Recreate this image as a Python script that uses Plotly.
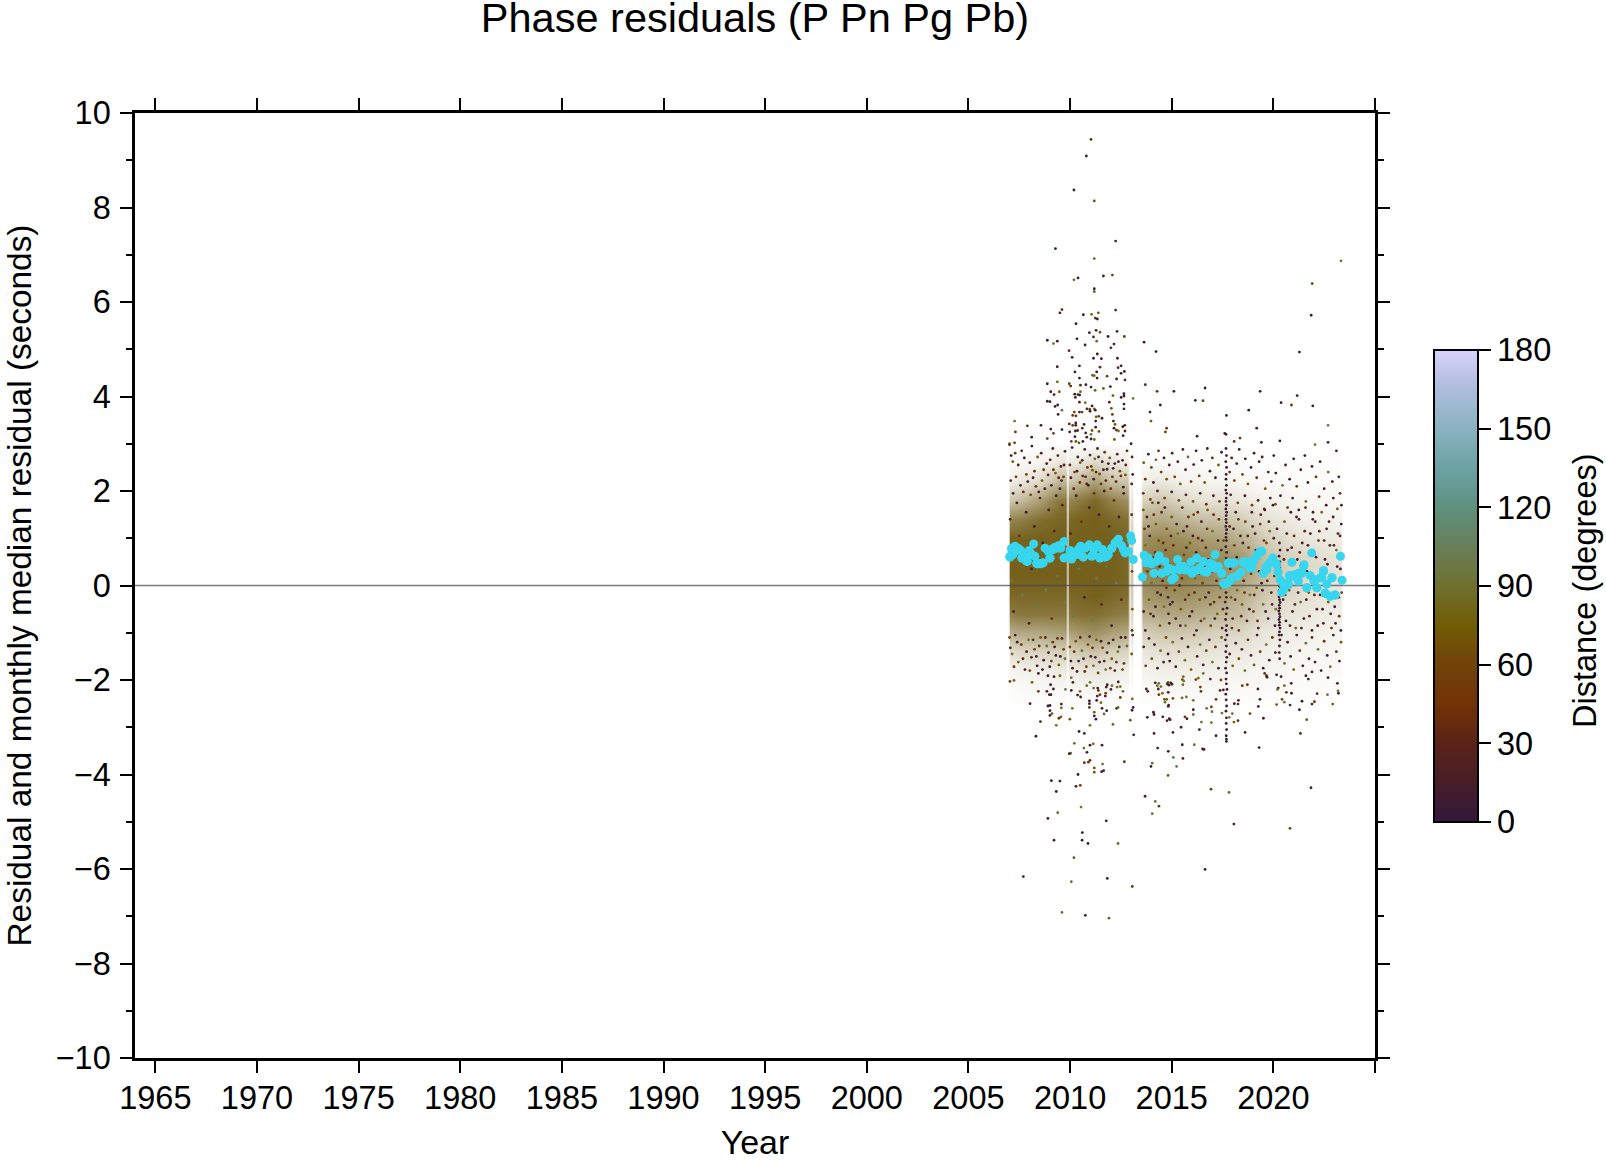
import plotly.graph_objects as go

# Values. Outlying residuals are individual readings.
# The solid core holds far too many dots to read one by one, so it is summarised as a
# hand-estimated coverage table (DENSITY_*), with a sample of hand-placed dots on top.
X_TICKS = list(range(1965, 2030, 5))
X_LABELS = [str(v) for v in X_TICKS[:-1]] + [""]
Y_TICKS = list(range(-10, 12, 2))
CBAR_TICKS = [0, 30, 60, 90, 120, 150, 180]

DIST_COLORS = [[0, "#33183a"], [0.167, "#5b2318"], [0.25, "#733205"], [0.333, "#71430a"],
               [0.417, "#715c06"], [0.5, "#70702e"], [0.583, "#687f58"], [0.667, "#5f917f"],
               [0.75, "#6ba2a3"], [0.833, "#8ab2c0"], [0.917, "#adbddc"], [1, "#d8d2fa"]]

DENSITY_YEAR = [2006.95, 2007.0, 2007.5, 2008.5, 2009.5, 2009.8, 2009.87, 2009.94, 2010.5, 2011.2, 2012,
                2012.85, 2012.92, 2013.02, 2013.12, 2013.45, 2013.55, 2014.5, 2015.5, 2016.5, 2017.5,
                2018.5, 2019.5, 2020.5, 2021.5, 2022.5, 2023.3, 2023.4]
DENSITY_RESID = [-2.6, -2.2, -1.8, -1.4, -1.0, -0.6, -0.2, 0.2, 0.6, 1.0, 1.4, 1.8, 2.2, 2.6, 3.0]
DENSITY_COVER = [
 [0]*28,
 [0,.02,.03,.04,.04,.04,0,.04,.05,.06,.05,.04,0,.02,0,0,.03,.05,.05,.04,.04,.03,.03,.02,.02,.02,.01,0],
 [0,.06,.08,.1,.12,.12,.01,.12,.14,.16,.12,.1,0,.05,0,0,.08,.1,.1,.1,.08,.08,.06,.05,.04,.04,.03,0],
 [0,.2,.25,.28,.3,.3,.03,.3,.35,.38,.3,.28,0,.12,0,0,.16,.2,.2,.18,.15,.14,.1,.08,.06,.06,.05,0],
 [0,.5,.55,.55,.6,.6,.05,.6,.65,.7,.6,.55,.02,.2,0,0,.3,.36,.35,.32,.28,.25,.16,.12,.1,.08,.07,0],
 [0,.8,.85,.85,.85,.85,.08,.85,.9,.9,.85,.8,.04,.3,0,0,.5,.55,.55,.5,.45,.4,.25,.18,.15,.12,.1,0],
 [0,.95,.95,.95,.95,.95,.1,.95,.97,1,.95,.92,.06,.4,0,0,.65,.7,.7,.65,.6,.5,.35,.25,.2,.16,.14,0],
 [0,1,1,1,1,1,.15,1,1,1,1,.95,.08,.45,0,0,.75,.8,.8,.75,.7,.6,.42,.3,.25,.2,.16,0],
 [0,1,1,1,1,1,.15,1,1,1,1,.95,.08,.45,0,0,.78,.82,.82,.75,.72,.62,.42,.3,.25,.2,.16,0],
 [0,.98,.98,1,1,1,.12,1,1,1,1,.95,.06,.4,0,0,.7,.75,.7,.62,.58,.48,.32,.22,.16,.13,.12,0],
 [0,.75,.8,.9,.97,.97,.08,.95,.98,1,.95,.9,.04,.3,0,0,.5,.55,.48,.4,.38,.3,.2,.14,.1,.08,.08,0],
 [0,.35,.42,.6,.85,.85,.05,.75,.85,.95,.8,.7,.02,.18,0,0,.28,.35,.25,.18,.18,.14,.09,.07,.05,.04,.04,0],
 [0,.1,.14,.22,.45,.45,.02,.35,.45,.6,.4,.35,0,.08,0,0,.1,.14,.08,.07,.06,.05,.03,.03,.02,.02,.02,0],
 [0,.02,.03,.07,.16,.16,0,.12,.16,.25,.16,.12,0,.03,0,0,.03,.04,.03,.02,.02,.02,.01,.01,.01,.01,.01,0],
 [0]*28,
]

# (year, residual, distance)
HIGH = [(2011.03,9.44,40),(2010.80,9.09,10),(2010.19,8.37,10),(2011.19,8.14,70),(2009.28,7.13,10),(2012.24,7.29,30),
(2011.19,6.92,85),(2023.33,6.87,100),(2021.91,6.39,50),(2021.86,5.72,15),(2010.19,6.47,85),(2010.39,6.51,10),(2011.64,6.55,10),
(2012.08,6.57,60),(2011.19,6.28,10),(2011.19,6.22,75),(2009.60,5.84,40),(2009.50,5.77,10),(2010.65,5.73,10),(2011.06,5.74,85),
(2011.39,5.77,75),(2012.24,5.83,30),(2011.24,5.66,30),(2011.34,5.64,10),(2010.29,5.54,10),(2011.28,5.40,10),(2010.95,5.35,15),
(2011.47,5.36,75),(2012.31,5.38,30),(2011.87,5.27,10),(2012.67,5.27,50),(2011.15,5.26,30),(2008.88,5.19,10),(2009.37,5.17,10),
(2009.18,5.12,90),(2010.34,5.22,10),(2011.31,5.17,85),(2012.16,5.11,15),(2010.74,5.09,15),(2012.01,5.03,30),(2013.64,5.15,10),
(2014.23,4.95,10),(2021.28,4.94,10),(2009.95,4.97,40),(2010.10,4.83,10),(2011.34,4.90,10),(2011.15,4.81,10),(2011.54,4.80,15),
(2012.33,4.81,10),(2009.37,4.63,10),(2010.46,4.65,10),(2011.47,4.62,40),(2012.51,4.65,10),(2012.36,4.61,30),(2010.24,4.52,10),
(2012.67,4.53,10),(2012.51,4.49,10),(2011.10,4.45,85),(2011.19,4.44,85),(2011.31,4.52,10),(2011.82,4.43,60),(2011.33,4.39,10),
(2010.46,4.39,15),(2012.29,4.37,10),(2012.70,4.35,40),(2009.37,4.31,85),(2008.88,4.27,10),(2009.96,4.27,50),(2010.03,4.22,40),
(2010.51,4.24,30),(2010.78,4.25,10),(2011.03,4.20,10),(2011.98,4.21,10),(2011.64,4.17,75),(2011.23,4.13,70),(2010.51,4.10,85),
(2009.05,4.10,10),(2009.47,4.10,75),(2009.21,4.04,15),(2010.23,4.05,10),(2010.39,4.04,15),(2010.47,4.03,15),(2010.26,3.98,15),
(2012.11,4.02,75),(2012.65,4.06,10),(2012.65,4.01,10),(2012.51,3.98,15),(2013.10,3.96,100),(2013.70,4.25,30),(2014.28,4.11,40),
(2015.11,4.11,10),(2016.64,4.18,10),(2016.16,3.92,10),(2016.54,3.91,60),(2019.35,4.11,10),(2021.17,4.02,10),(2020.38,3.87,10),
(2020.89,3.82,40),(2021.94,3.80,15),(2008.88,3.90,10),(2009.01,3.89,10),(2009.39,3.82,10),(2009.26,3.79,15),(2010.46,3.88,30),
(2010.75,3.87,95),(2011.93,3.88,30),(2012.65,3.84,10),(2014.44,3.82,10),(2011.08,3.80,15),(2010.83,3.74,30),(2010.97,3.73,70),
(2011.19,3.74,85),(2011.24,3.71,15),(2012.03,3.75,70),(2012.65,3.74,10),(2009.60,3.71,95),(2010.98,3.69,10),(2010.46,3.67,15),
(2010.59,3.67,60),(2010.21,3.67,60),(2009.41,3.62,15),(2010.13,3.60,50),(2010.29,3.59,40),(2012.08,3.62,50),(2011.28,3.57,75),
(2011.41,3.58,60),(2011.57,3.54,10),(2013.93,3.67,15),(2017.69,3.60,10),(2018.79,3.71,10),(2007.27,3.48,90),(2012.13,3.48,15),
(2013.98,3.48,75),(2011.26,3.48,10),(2007.90,3.38,40),(2008.57,3.39,10),(2009.96,3.42,40),(2010.28,3.44,15),(2010.28,3.39,15),
(2010.13,3.39,50),(2010.69,3.41,10),(2012.21,3.41,70),(2012.69,3.39,30),(2012.59,3.36,15),(2014.75,3.33,50),(2022.69,3.39,100),
(2019.18,3.33,15),(2010.60,3.33,40),(2011.26,3.35,15),(2009.05,3.31,15),(2009.60,3.30,10),(2012.16,3.33,15),(2010.26,3.27,15),
(2010.37,3.28,30),(2011.08,3.28,70),(2012.28,3.29,30),(2012.70,3.27,30),(2007.31,3.25,50),(2009.98,3.25,15),(2009.18,3.22,50),
(2010.77,3.23,15),(2011.42,3.26,75),(2012.38,3.27,90),(2014.69,3.25,50),(2011.03,3.20,95),(2017.61,3.22,15),(2017.67,3.20,10),
(2016.25,3.16,10),(2012.61,3.17,15),(2008.11,3.14,15),(2010.24,3.15,15),(2010.82,3.14,15),(2018.36,3.12,40),(2008.88,3.11,50),
(2011.03,3.10,10),(2011.19,3.09,85),(2012.18,3.09,75),(2018.07,3.05,40),(2020.32,3.06,15),(2019.41,3.03,15),(2010.06,3.05,60),
(2010.29,3.05,70),(2010.44,3.02,70),(2010.63,3.05,10),(2007.02,3.00,90),(2007.27,3.02,50),(2022.69,3.03,15),(2022.05,2.98,100)]

LOW = [(2007.04,-2.03,55),(2007.24,-2.01,80),(2008.13,-2.05,75),(2008.44,-1.86,10),(2008.44,-2.24,50),(2008.03,-2.50,10),
(2008.54,-2.88,30),(2008.32,-3.19,10),(2008.91,-1.91,10),(2009.21,-1.93,15),(2009.50,-1.91,85),(2009.04,-2.10,10),(2009.18,-2.19,10),
(2008.86,-2.24,10),(2008.98,-2.31,10),(2009.06,-2.31,15),(2009.77,-2.20,100),(2010.06,-1.95,95),(2010.14,-2.05,15),(2010.06,-2.22,10),
(2010.37,-2.32,15),(2010.49,-2.24,90),(2010.52,-2.36,15),(2010.82,-2.12,90),(2010.98,-2.05,95),(2011.16,-2.17,90),(2011.36,-2.17,15),
(2011.39,-2.22,40),(2011.83,-2.10,15),(2011.78,-2.15,15),(2012.06,-2.12,90),(2012.01,-2.20,10),(2012.31,-2.15,85),(2012.47,-2.14,85),
(2012.37,-2.04,15),(2012.60,-2.24,85),(2011.75,-2.28,60),(2011.73,-2.34,15),(2011.47,-2.31,50),(2011.34,-2.34,15),(2011.31,-2.43,10),
(2010.95,-2.44,10),(2010.95,-2.50,10),(2011.52,-2.48,80),(2012.47,-2.37,50),(2013.06,-2.40,85),(2009.01,-2.54,10),(2008.91,-2.55,10),
(2009.57,-2.51,15),(2009.57,-2.59,85),(2010.11,-2.60,90),(2010.95,-2.58,40),(2011.57,-2.60,10),(2011.80,-2.65,15),(2012.29,-2.60,15),
(2012.36,-2.58,85),(2013.10,-2.58,10),(2013.05,-2.64,15),(2009.01,-2.65,10),(2009.11,-2.71,75),(2009.01,-2.75,10),(2009.55,-2.78,75),
(2009.45,-2.81,40),(2009.99,-2.83,75),(2011.19,-2.68,75),(2011.19,-2.76,15),(2011.67,-2.72,90),(2011.27,-2.83,15),(2012.96,-2.85,75),
(2009.32,-2.96,90),(2010.98,-2.96,85),(2012.11,-2.94,85),(2010.44,-3.09,10),(2010.70,-3.13,15),(2013.13,-3.16,15),(2010.21,-3.34,90),
(2011.14,-3.35,85),(2010.98,-3.38,10),(2011.57,-3.38,15),(2010.68,-3.44,90),(2010.83,-3.53,15),(2010.03,-3.55,90),(2009.96,-3.56,15),
(2010.98,-3.70,40),(2010.90,-3.74,50),(2010.70,-3.75,40),(2011.60,-3.78,95),(2012.67,-3.73,50),(2011.19,-3.86,70),(2011.19,-3.95,75),
(2011.55,-3.94,15),(2011.65,-3.92,15),(2010.39,-4.00,10),(2009.08,-4.13,10),(2009.50,-4.14,10),(2010.29,-4.25,10),(2010.50,-4.23,50),
(2009.32,-4.36,10),(2010.54,-4.69,95),(2009.39,-4.81,90),(2008.91,-4.93,10),(2011.78,-4.98,10),(2010.60,-5.23,10),(2009.21,-5.39,15),
(2010.59,-5.39,10),(2010.88,-5.46,15),(2012.36,-5.46,85),(2010.19,-5.76,70),(2007.70,-6.16,30),(2011.83,-6.20,15),(2010.06,-6.27,95),
(2013.06,-6.37,50),(2009.60,-6.92,90),(2010.75,-6.98,10),(2011.91,-7.04,80),(2016.64,-6.01,10),(2020.82,-5.14,60),(2018.06,-5.05,15),
(2021.85,-4.28,15),(2017.82,-4.38,85),(2016.93,-4.31,60),(2013.69,-4.46,15),(2014.19,-4.57,95),(2014.37,-4.67,50),(2014.04,-4.83,90),
(2014.82,-4.02,70),(2013.98,-3.83,15),(2014.04,-3.76,90),(2015.08,-3.64,100),(2015.24,-3.83,100),(2015.55,-3.66,15),(2014.83,-3.51,15),
(2014.31,-3.44,15),(2016.11,-3.37,95),(2015.52,-3.37,15),(2016.52,-3.46,15),(2016.59,-3.47,15),(2019.30,-3.43,15),(2014.13,-3.13,15),
(2015.06,-3.11,15),(2015.46,-3.00,15),(2016.36,-3.05,15),(2017.18,-3.18,15),(2018.61,-3.11,15),(2021.33,-3.13,30),(2013.80,-2.79,15),
(2014.10,-2.68,15),(2014.13,-2.73,15),(2014.56,-2.78,15),(2014.77,-2.86,15),(2014.88,-2.82,15),(2014.92,-2.84,15),(2015.65,-2.78,50),
(2015.75,-2.82,15),(2016.06,-2.63,15),(2016.06,-2.73,90),(2016.46,-2.89,95),(2016.95,-2.90,95),(2016.72,-2.60,95),(2016.95,-2.57,50),
(2016.98,-2.67,90),(2017.47,-2.70,90),(2017.98,-2.71,90),(2017.83,-2.79,100),(2018.06,-2.89,75),(2018.26,-2.86,40),(2018.85,-2.71,60),
(2019.51,-2.81,15),(2021.64,-2.84,75),(2021.28,-2.63,15),(2020.82,-2.53,30),(2020.16,-2.52,75),(2019.26,-2.56,30),(2020.54,-2.47,95),
(2020.43,-2.41,60),(2021.41,-2.45,15),(2021.90,-2.51,15),(2022.02,-2.46,40),(2022.92,-2.51,75),(2022.66,-2.31,95),(2022.15,-2.29,40),
(2023.20,-2.28,15),(2023.18,-2.23,95),(2023.15,-2.07,15),(2022.69,-1.95,15),(2021.90,-1.83,15),(2021.60,-1.91,15),(2021.72,-1.98,15),
(2020.88,-2.07,15),(2020.54,-2.12,90),(2020.24,-2.17,15),(2020.20,-2.20,90),(2020.64,-2.26,40),(2020.89,-2.28,15),(2019.24,-2.19,15),
(2019.34,-2.41,15),(2018.72,-2.10,50),(2018.47,-2.12,50),(2018.28,-2.43,15),(2018.08,-2.50,15),(2018.26,-2.51,40),(2017.18,-2.41,40),
(2016.41,-2.15,50),(2016.44,-2.24,40),(2016.06,-2.43,90),(2015.72,-2.36,95),(2015.51,-2.38,90),(2015.06,-2.39,70),(2014.75,-2.41,70),
(2014.64,-2.41,70),(2014.67,-2.47,90),(2014.85,-2.53,15),(2014.83,-2.56,15),(2014.54,-2.28,90),(2014.37,-2.31,50),(2014.83,-2.26,15),
(2013.75,-2.19,15),(2013.82,-2.24,15),(2014.34,-2.19,15),(2014.19,-2.06,15),(2014.37,-2.07,90),(2014.29,-2.12,90),(2014.47,-2.14,90),
(2014.82,-2.05,80),(2014.78,-2.08,15),(2014.86,-2.11,15),(2014.95,-2.06,15),(2015.01,-2.09,15),(2015.55,-2.10,90),(2015.52,-1.99,70),
(2015.59,-2.02,90),(2015.57,-1.93,85),(2016.19,-1.99,50),(2016.31,-1.96,85),(2016.55,-1.86,95),(2016.90,-1.98,15),(2017.42,-2.00,60),
(2017.38,-2.22,15),(2017.54,-2.21,15),(2019.57,-1.86,40),(2019.66,-1.91,15),(2019.69,-1.94,15),(2020.38,-1.93,15),(2020.16,-1.89,15)]

# Fringe above the core, about 2 to 3 s
UPPER = [(2007.02,2.98,40),(2007.10,2.75,10),(2007.18,2.62,75),(2007.30,2.80,50),(2007.45,2.55,15),(2007.62,2.85,30),(2007.75,2.70,10),
(2007.85,2.35,60),(2008.02,2.60,15),(2008.12,2.95,10),(2008.25,2.42,40),(2008.40,2.72,75),(2008.58,2.80,15),(2008.70,2.45,50),
(2008.85,2.58,10),(2009.02,2.66,40),(2009.15,2.90,15),(2009.28,2.38,75),(2009.40,2.75,30),(2009.55,2.52,15),(2009.68,2.30,60),
(2009.75,2.84,10),(2009.99,2.55,40),(2010.10,2.92,15),(2010.22,2.40,60),(2010.38,2.72,10),(2010.50,2.60,75),(2010.62,2.32,40),
(2010.72,2.88,15),(2010.85,2.50,50),(2010.98,2.76,10),(2011.10,2.44,75),(2011.22,2.68,85),(2011.35,2.90,15),(2011.45,2.36,60),
(2011.58,2.62,10),(2011.70,2.82,50),(2011.82,2.46,15),(2011.95,2.70,75),(2012.08,2.30,40),(2012.20,2.58,10),(2012.32,2.78,30),
(2012.45,2.42,60),(2012.58,2.65,15),(2012.72,2.34,75),(2012.80,2.85,40),(2013.00,3.00,10),(2013.05,2.72,30),(2013.08,2.35,15),
(2013.62,2.60,75),(2013.70,2.25,40),(2013.85,2.78,15),(2014.00,2.50,60),(2014.10,2.18,10),(2014.22,2.66,90),(2014.35,2.85,40),
(2014.48,2.40,60),(2014.62,2.70,15),(2014.75,2.25,75),(2014.88,2.55,10),(2015.02,2.80,15),(2015.15,2.30,50),(2015.30,2.62,15),
(2015.42,2.15,75),(2015.55,2.88,10),(2015.68,2.45,15),(2015.80,2.72,90),(2015.95,2.20,40),(2016.08,2.56,10),(2016.20,2.85,15),
(2016.35,2.32,60),(2016.48,2.65,10),(2016.62,2.18,75),(2016.75,2.90,15),(2016.88,2.42,10),(2017.00,2.70,40),(2017.15,2.28,15),
(2017.30,2.55,75),(2017.45,2.82,10),(2017.85,2.40,40),(2017.95,2.70,15),(2018.08,2.22,50),(2018.20,2.58,10),(2018.32,2.88,15),
(2018.48,2.35,60),(2018.62,2.68,15),(2018.75,2.15,75),(2018.90,2.50,10),(2019.05,2.80,15),(2019.18,2.28,40),(2019.30,2.62,10),
(2019.45,2.72,15),(2019.60,2.05,75),(2019.75,2.40,15),(2019.90,2.20,15),(2020.02,2.75,10),(2020.12,2.38,15),(2020.45,2.12,90),
(2020.60,2.55,15),(2020.80,2.25,10),(2021.00,2.68,10),(2021.15,2.10,40),(2021.35,2.45,15),(2021.55,2.75,10),(2021.70,2.18,15),
(2021.90,2.52,10),(2022.10,2.30,40),(2022.30,2.62,15),(2022.50,2.05,15),(2022.70,2.40,90),(2022.90,2.20,10),(2023.10,2.85,15),
(2023.22,2.30,15),(2023.28,1.95,40),(2023.35,1.70,15),(2023.15,1.62,75),(2022.95,1.85,15),(2022.60,1.70,10),(2022.25,1.88,40),
(2021.95,1.55,15),(2021.60,1.78,90),(2021.25,1.60,15),(2020.95,1.85,10),(2020.70,1.65,40),(2020.35,1.90,10),(2020.10,1.72,75),
(2019.85,1.85,15),(2019.55,1.62,40),(2019.25,1.80,10),(2018.95,1.70,60),(2018.60,1.90,15),(2018.25,1.75,50),(2017.90,1.92,10),
(2017.35,1.78,60),(2017.05,1.90,15),(2016.70,1.72,40),(2016.40,1.95,10),(2016.05,1.78,75),(2015.70,1.92,15),(2015.35,1.80,60),
(2015.00,1.98,10),(2014.65,1.85,50),(2014.30,2.00,15),(2013.95,1.82,60),(2013.60,1.95,40)]

# Fringe below the core, about -1 to -1.9 s
LOWER = [(2007.02,-1.10,60),(2007.15,-1.45,90),(2007.30,-1.05,15),(2007.45,-1.62,75),(2007.60,-1.25,40),(2007.78,-1.78,15),(2007.95,-1.15,90),
(2008.10,-1.52,30),(2008.25,-1.35,60),(2008.38,-1.70,15),(2008.55,-1.10,75),(2008.70,-1.58,10),(2008.85,-1.28,90),(2009.00,-1.72,15),
(2009.15,-1.20,50),(2009.30,-1.48,10),(2009.45,-1.68,75),(2009.60,-1.12,30),(2009.75,-1.55,90),(2009.99,-1.30,60),(2010.12,-1.75,15),
(2010.28,-1.18,75),(2010.42,-1.60,10),(2010.58,-1.38,90),(2010.72,-1.82,40),(2010.88,-1.25,60),(2011.02,-1.50,15),(2011.15,-1.70,90),
(2011.30,-1.15,75),(2011.45,-1.62,10),(2011.60,-1.32,60),(2011.75,-1.78,95),(2011.90,-1.22,15),(2012.05,-1.55,75),(2012.20,-1.80,30),
(2012.35,-1.40,90),(2012.50,-1.10,15),(2012.65,-1.65,50),(2012.80,-1.28,85),(2013.03,-1.45,75),(2013.08,-1.05,15),(2013.62,-1.30,15),
(2013.72,-1.70,60),(2013.88,-1.12,10),(2014.02,-1.55,75),(2014.15,-1.25,15),(2014.30,-1.75,10),(2014.45,-1.38,90),(2014.60,-1.62,15),
(2014.72,-1.10,60),(2014.82,-1.45,10),(2014.90,-1.60,10),(2015.05,-1.20,90),(2015.20,-1.72,15),(2015.35,-1.40,60),(2015.50,-1.12,15),
(2015.65,-1.58,90),(2015.80,-1.30,10),(2015.95,-1.78,75),(2016.10,-1.05,40),(2016.25,-1.50,15),(2016.40,-1.25,90),(2016.55,-1.68,10),
(2016.70,-1.38,60),(2016.85,-1.15,15),(2017.00,-1.62,90),(2017.15,-1.30,40),(2017.30,-1.75,15),(2017.45,-1.10,75),(2017.85,-1.45,15),
(2018.00,-1.70,75),(2018.15,-1.22,10),(2018.30,-1.55,60),(2018.45,-1.35,15),(2018.60,-1.80,90),(2018.75,-1.15,40),(2018.90,-1.48,10),
(2019.05,-1.68,75),(2019.20,-1.05,15),(2019.35,-1.40,60),(2019.50,-1.75,10),(2019.65,-1.25,90),(2019.80,-1.58,15),(2019.95,-1.10,40),
(2020.10,-1.42,15),(2020.55,-1.65,90),(2020.70,-1.20,15),(2020.85,-1.50,10),(2021.00,-1.78,75),(2021.15,-1.05,15),(2021.30,-1.38,40),
(2021.45,-1.70,10),(2021.60,-1.22,90),(2021.75,-1.55,15),(2021.90,-1.10,40),(2022.05,-1.62,15),(2022.20,-1.35,90),(2022.35,-1.80,10),
(2022.50,-1.18,40),(2022.65,-1.48,15),(2022.80,-1.72,95),(2022.95,-1.05,15),(2023.10,-1.40,40),(2023.25,-1.60,15),(2023.33,-1.20,75)]

# Speckle inside and around the central band, thinning out to the right
MIDDLE = [(2013.60,1.60,75),(2013.66,1.20,40),(2013.70,0.85,90),(2013.78,1.45,15),(2013.80,0.30,60),(2013.88,-0.30,75),(2013.92,1.05,10),(2014.00,0.05,90),
(2014.05,1.75,60),(2014.10,-0.65,15),(2014.18,0.70,40),(2014.22,1.30,75),(2014.30,-0.15,10),(2014.36,0.95,60),(2014.42,-0.85,75),(2014.50,1.55,40),
(2014.55,0.10,15),(2014.62,-0.45,90),(2014.70,0.75,30),(2014.76,1.20,60),(2014.82,-0.25,10),(2014.84,-0.60,10),(2014.88,-0.80,10),(2014.92,-0.40,10),
(2015.00,1.45,75),(2015.08,0.85,40),(2015.15,-0.10,60),(2015.20,-0.70,15),(2015.30,1.10,90),(2015.38,0.00,10),(2015.45,-0.50,75),(2015.52,1.65,30),
(2015.60,0.65,60),(2015.68,-0.85,90),(2015.75,1.25,15),(2015.84,-0.20,40),(2015.90,0.90,75),(2016.00,-0.55,15),(2016.08,1.50,60),(2016.15,0.15,90),
(2016.22,-0.95,10),(2016.30,1.00,40),(2016.38,-0.30,75),(2016.46,1.35,15),(2016.52,0.05,60),(2016.60,-0.70,90),(2016.68,0.80,30),(2016.76,1.60,75),
(2016.82,-0.15,15),(2016.92,-0.85,60),(2017.00,1.15,90),(2017.08,-0.35,40),(2017.15,0.70,15),(2017.24,-0.60,75),(2017.32,1.40,40),(2017.40,-0.05,90),
(2017.48,-0.90,15),(2017.55,0.95,60),(2017.85,1.25,30),(2017.92,-0.25,75),(2018.00,-0.70,15),(2018.08,0.85,60),(2018.15,1.55,10),(2018.22,-0.10,90),
(2018.30,-0.95,40),(2018.38,1.05,15),(2018.46,-0.40,75),(2018.54,0.10,10),(2018.62,1.35,60),(2018.70,-0.75,15),(2018.78,0.80,40),(2018.85,-0.20,90),
(2018.94,1.55,15),(2019.02,-0.55,60),(2019.10,1.10,10),(2019.18,-0.05,75),(2019.26,-0.90,15),(2019.35,1.30,40),(2019.42,0.05,15),(2019.50,-0.40,90),
(2019.58,1.60,10),(2019.66,0.90,60),(2019.74,-0.70,15),(2019.82,1.15,90),(2019.90,-0.15,15),(2019.98,1.70,10),(2020.05,0.20,40),(2020.12,-0.50,90),
(2020.18,1.20,15),(2020.48,-0.30,15),(2020.55,1.35,75),(2020.62,-0.75,10),(2020.70,0.75,15),(2020.78,-0.10,90),(2020.86,1.55,10),(2020.94,-0.55,15),
(2021.02,1.05,40),(2021.10,-0.90,75),(2021.18,0.55,15),(2021.26,1.40,15),(2021.34,-0.35,90),(2021.42,0.90,10),(2021.50,-0.70,15),(2021.58,1.65,40),
(2021.66,0.30,15),(2021.74,-0.15,75),(2021.82,1.10,10),(2021.90,-0.95,15),(2021.98,0.65,90),(2022.06,1.35,15),(2022.14,-0.50,10),(2022.22,0.95,40),
(2022.30,-0.20,15),(2022.38,1.55,90),(2022.46,-0.80,15),(2022.54,0.55,10),(2022.62,1.20,15),(2022.70,-0.35,75),(2022.78,0.85,15),(2022.86,-0.90,40),
(2022.94,1.45,10),(2023.02,-0.45,15),(2023.10,0.75,90),(2023.18,1.10,15),(2023.24,-0.65,40),(2023.30,0.35,15),(2023.34,1.30,10),(2023.36,-0.15,60),
(2007.05,1.40,30),(2007.12,0.10,100),(2007.22,-0.55,15),(2007.38,1.75,15),(2007.50,1.05,40),(2007.66,-0.20,105),(2007.84,1.55,10),(2007.98,-0.80,15),
(2008.10,0.35,30),(2008.24,1.25,10),(2008.36,-0.45,100),(2008.52,1.85,30),(2008.66,0.90,10),(2008.80,-0.10,105),(2008.95,1.60,10),(2009.10,-0.70,40),
(2009.22,1.15,30),(2009.36,0.20,100),(2009.50,2.05,10),(2009.62,1.70,30),(2009.74,-0.35,105),(2010.02,1.10,30),(2010.16,-0.65,100),(2010.30,1.90,10),
(2010.44,0.35,105),(2010.56,1.35,40),(2010.70,-0.25,10),(2010.82,2.15,30),(2010.94,1.65,10),(2011.06,-0.75,100),(2011.18,1.95,40),(2011.30,0.15,105),
(2011.42,1.50,10),(2011.54,-0.40,30),(2011.68,2.00,10),(2011.80,0.40,100),(2011.92,1.25,30),(2012.04,-0.85,10),(2012.16,1.80,40),(2012.28,0.05,105),
(2012.40,1.45,10),(2012.52,-0.30,30),(2012.64,1.95,10),(2012.76,0.60,100),(2013.03,1.50,30),(2013.05,0.30,60),(2013.06,-0.50,75),(2013.03,2.15,15),
(2013.05,-0.95,30)]

# Further speckle from the crop of the band, mostly the darker and browner dots
EXTRA = [(2007.08,2.22,30),(2007.20,1.95,10),(2007.34,2.30,60),(2007.56,2.12,15),(2007.70,1.98,40),(2007.92,2.20,10),(2008.06,1.92,60),(2008.18,2.28,15),
(2008.32,2.10,40),(2008.46,1.98,10),(2008.62,2.22,75),(2008.76,2.05,15),(2008.92,2.34,30),(2009.08,2.12,10),(2009.18,2.45,40),(2009.32,1.90,15),
(2009.44,2.28,30),(2009.58,2.22,10),(2009.70,2.55,30),(2010.04,2.28,15),(2010.18,2.05,30),(2010.34,2.42,10),(2010.48,2.18,40),(2010.60,2.65,10),
(2010.76,2.30,30),(2010.90,2.12,15),(2011.04,2.52,40),(2011.16,2.25,10),(2011.28,2.40,30),(2011.40,2.72,15),(2011.52,2.15,40),(2011.64,2.45,10),
(2011.76,2.22,30),(2011.88,2.58,15),(2012.00,2.05,40),(2012.12,2.48,10),(2012.26,2.20,30),(2012.38,2.62,15),(2012.50,2.32,40),(2012.62,2.08,10),
(2012.74,2.55,30),(2007.06,-1.32,15),(2007.24,-1.72,40),(2007.40,-1.20,10),(2007.68,-1.55,30),(2007.86,-1.40,15),(2008.02,-1.80,60),(2008.18,-1.15,40),
(2008.34,-1.50,10),(2008.48,-1.28,40),(2008.64,-1.78,15),(2008.78,-1.10,30),(2008.94,-1.42,10),(2009.08,-1.60,60),(2009.24,-1.30,15),(2009.38,-1.12,40),
(2009.52,-1.50,10),(2009.68,-1.35,60),(2010.04,-1.60,10),(2010.20,-1.40,40),(2010.34,-1.82,15),(2010.50,-1.10,30),(2010.66,-1.55,10),(2010.80,-1.72,60),
(2010.96,-1.08,15),(2011.10,-1.32,40),(2011.24,-1.52,10),(2011.38,-1.85,60),(2011.52,-1.18,15),(2011.68,-1.60,30),(2011.82,-1.42,10),(2011.98,-1.75,60),
(2012.12,-1.15,15),(2012.28,-1.62,40),(2012.42,-1.30,10),(2012.58,-1.78,60),(2012.72,-1.10,15),(2013.62,-0.55,15),(2013.70,-0.95,10),(2013.78,0.55,40),
(2013.86,1.25,10),(2013.96,-0.60,30),(2014.04,0.60,15),(2014.12,1.50,40),(2014.20,-0.45,10),(2014.26,0.20,40),(2014.34,1.75,15),(2014.40,0.40,30),
(2014.46,-0.20,15),(2014.58,0.90,40),(2014.66,1.65,10),(2014.74,-0.05,40),(2014.86,0.45,15),(2014.96,1.05,30),(2015.04,-0.35,10),(2015.12,0.25,40),
(2015.24,1.30,15),(2015.34,0.60,30),(2015.42,-0.85,10),(2015.50,0.15,40),(2015.58,1.15,15),(2015.66,-0.30,30),(2015.72,0.80,10),(2015.82,1.45,40),
(2015.88,-0.65,15),(2015.96,0.35,40),(2016.04,1.05,10),(2016.12,-0.15,30),(2016.20,0.70,15),(2016.28,1.55,40),(2016.36,0.25,10),(2016.44,-0.75,40),
(2016.50,0.95,15),(2016.58,0.40,30),(2016.66,-0.25,10),(2016.74,1.20,40),(2016.80,0.55,15),(2016.90,-0.40,30),(2016.98,0.30,10),(2017.06,1.50,40),
(2017.12,-0.70,15),(2017.20,0.10,30),(2017.28,0.95,10),(2017.36,-0.25,40),(2017.44,0.75,15),(2017.52,-0.50,30),(2017.88,0.35,15),(2017.96,-0.90,40),
(2018.04,1.20,10),(2018.12,-0.30,30),(2018.20,0.60,15),(2018.28,1.40,40),(2018.34,0.20,10),(2018.42,-0.65,30),(2018.50,0.90,15),(2018.58,-0.15,40),
(2018.66,0.40,10),(2018.74,1.05,30),(2018.82,-0.50,15),(2018.90,0.25,40),(2018.98,1.25,10),(2019.06,-0.20,30),(2019.14,0.75,15),(2019.22,-0.75,40),
(2019.30,0.30,10),(2019.38,1.50,30),(2019.46,-0.10,15),(2019.54,0.95,40),(2019.62,-0.55,10),(2019.70,0.10,30),(2019.78,1.35,15),(2019.86,0.60,10),
(2019.94,-0.40,30),(2020.02,1.00,15),(2020.08,-0.85,10),(2020.16,0.35,30),(2020.40,-1.05,15),(2020.52,0.55,10),(2020.58,-0.20,30),(2020.66,1.10,15),
(2020.74,0.10,10),(2020.82,-0.85,30),(2020.90,0.80,15),(2020.98,0.20,10),(2021.06,-0.40,30),(2021.14,1.45,15),(2021.22,-0.15,10),(2021.30,0.70,30),
(2021.38,-0.90,15),(2021.46,0.40,10),(2021.54,1.15,30),(2021.62,-0.30,15),(2021.70,0.85,10),(2021.78,-0.65,30),(2021.86,0.15,15),(2021.94,1.40,10),
(2022.02,-0.20,30),(2022.10,0.60,15),(2022.18,-0.85,10),(2022.26,1.15,30),(2022.34,0.25,15),(2022.42,-0.50,10),(2022.50,0.95,30),(2022.58,-0.10,15),
(2022.66,0.45,10),(2022.74,1.35,30),(2022.82,-0.60,15),(2022.90,0.20,10),(2022.98,0.85,30),(2023.06,-0.80,15),(2023.14,0.40,10),(2023.22,-0.25,30),
(2023.28,1.05,15),(2023.32,-0.95,10)]

STREAK_A_RESID = [2.9,2.75,2.62,2.5,2.35,2.25,2.12,2.02,1.95,1.85,1.78,1.7,1.62,1.55,1.48,1.4,1.33,1.25,1.18,1.1,1.02,0.95,0.82,0.7,0.58,
                  -0.15,-0.25,-0.35,-0.48,-0.6,-0.72,-0.85,-0.95,-1.05,-1.15,-1.28,-1.4,-1.52,-1.62,-1.75,-1.85,-1.98,-2.08,-2.2,-2.3,-2.42,-2.55,-2.66,-2.8,-2.92,-3.05,-3.18,-3.25,-3.3]
STREAK_A_YEAR = [2017.67,2017.69,2017.66,2017.70,2017.68,2017.67,2017.69,2017.66,2017.70,2017.68,2017.67,2017.69,2017.66,2017.70,2017.68,2017.67,2017.69,2017.66,2017.70,2017.68,2017.67,2017.69,2017.66,2017.70,2017.68,
                 2017.67,2017.69,2017.63,2017.72,2017.68,2017.65,2017.70,2017.67,2017.72,2017.64,2017.69,2017.66,2017.71,2017.68,2017.65,2017.70,2017.67,2017.69,2017.72,2017.66,2017.68,2017.70,2017.67,2017.69,2017.68,2017.70,2017.68,2017.69,2017.69]
STREAK_B_RESID = [0.9,0.75,0.62,0.5,0.38,0.25,-0.02,-0.1,-0.18,-0.24,-0.3,-0.36,-0.42,-0.48,-0.54,-0.6,-0.66,-0.72,-0.78,-0.84,-0.9,-0.98,-1.05,-1.15,-1.28,-1.42,-1.55]
STREAK_B_YEAR = [2020.30,2020.33,2020.28,2020.32,2020.30,2020.27,2020.31,2020.29,2020.32,2020.28,2020.30,2020.33,2020.29,2020.31,2020.27,2020.30,2020.32,2020.28,2020.31,2020.29,2020.33,2020.30,2020.28,2020.32,2020.30,2020.29,2020.31]

MEDIAN_YEAR = [2007.04,2007.13,2007.18,2007.29,2007.45,2007.57,2007.67,2007.77,2007.90,2007.99,2008.11,2008.21,2008.27,2008.39,2008.55,2008.68,2008.77,2008.93,2009.01,2009.11,
2009.26,2009.42,2009.54,2009.70,2009.70,2009.87,2010.00,2010.08,2010.24,2010.41,2010.52,2010.65,2010.73,2010.95,2011.06,2011.18,2011.34,2011.44,2011.60,2011.72,2011.88,2012.05,2012.21,2012.38,2012.54,2012.70,2012.87,2012.98,2013.03,2013.11,
2013.56,2013.64,2013.74,2013.85,2014.02,2014.13,2014.26,2014.38,2014.51,2014.67,2014.84,2015.00,2015.13,2015.29,2015.41,2015.57,2015.74,2015.95,2016.10,2016.23,2016.39,2016.56,2016.72,2016.89,2017.02,2017.13,2017.30,2017.46,2017.59,2017.74,2017.79,2017.90,
2018.08,2018.20,2018.40,2018.53,2018.69,2018.86,2019.02,2019.18,2019.35,2019.51,2019.64,2019.81,2019.97,2020.14,2020.23,2020.33,2020.41,2020.50,2020.66,2020.79,2020.91,2021.02,2021.23,2021.23,2021.40,2021.51,2021.64,2021.81,2021.89,2022.00,2022.14,2022.30,2022.46,2022.55,2022.63,2022.79,2022.89,2023.04,2023.30,2023.38,
2014.76,2015.09,2015.41,2015.66,2016.00,2016.32,2016.56,2016.89,2017.14,2017.46,2017.55,2017.79,2018.04,2017.96,2018.20,2018.53,2018.78,2018.94,2019.19,2019.43,2019.68,2019.93,2020.17,2020.58,2020.75,2020.50,2020.91,2021.32,2021.48,2021.65,2022.14,2022.06,2022.39,2022.47,2022.88,2022.55,2022.80,2023.04,
2007.12,2007.29,2007.04,2007.62,2007.86,2007.94,2008.35,2008.60,2009.01,2009.17,2009.42,2010.08,2010.49,2010.90,2011.14,2011.47,2011.80,2012.05,2012.29,2012.62]
MEDIAN_RESID = [0.60,0.76,0.65,0.83,0.79,0.74,0.60,0.56,0.51,0.74,0.65,0.88,0.62,0.46,0.46,0.48,0.79,0.72,0.58,0.77,
0.81,0.84,0.79,0.93,0.58,0.60,0.74,0.56,0.65,0.77,0.83,0.60,0.79,0.86,0.62,0.76,0.86,0.60,0.76,0.60,0.65,0.79,0.90,0.98,0.84,0.69,0.72,1.05,0.95,0.55,
0.18,0.64,0.48,0.58,0.46,0.26,0.51,0.63,0.26,0.51,0.37,0.12,0.16,0.55,0.33,0.40,0.33,0.50,0.32,0.58,0.37,0.30,0.28,0.37,0.44,0.65,0.40,0.26,0.03,0.05,0.48,0.12,
0.48,0.19,0.28,0.49,0.44,0.37,0.51,0.62,0.72,0.26,0.40,0.48,0.58,0.46,0.28,0.12,-0.15,0.02,0.05,0.21,0.49,0.23,0.09,0.26,0.26,0.44,-0.05,0.21,0.69,0.09,-0.05,0.16,0.32,-0.16,0.03,-0.23,0.17,-0.20,0.62,0.11,
0.30,0.33,0.40,0.33,0.26,0.33,0.51,0.47,0.37,0.26,0.05,0.47,0.47,0.16,0.19,0.51,0.51,0.37,0.65,0.72,0.33,0.51,0.44,0.05,0.02,-0.09,0.19,0.26,0.40,-0.05,-0.05,0.12,0.16,0.30,0.16,-0.17,-0.22,-0.20,
0.79,0.72,0.62,0.58,0.51,0.69,0.47,0.47,0.58,0.76,0.79,0.62,0.65,0.83,0.65,0.58,0.62,0.79,0.93,0.76]

ZERO_YEARS = [1964, 2025]
ZERO_RESID = [0, 0]

dots = HIGH + LOW + UPPER + LOWER + MIDDLE + EXTRA
dot_year = [d[0] for d in dots] + STREAK_A_YEAR + STREAK_B_YEAR
dot_resid = [d[1] for d in dots] + STREAK_A_RESID + STREAK_B_RESID
dot_dist = [d[2] for d in dots] + [8] * (len(STREAK_A_YEAR) + len(STREAK_B_YEAR))

FONT = "Liberation Sans, Arial, Helvetica, sans-serif"
fig = go.Figure()
fig.add_trace(go.Heatmap(x=DENSITY_YEAR, y=DENSITY_RESID, z=DENSITY_COVER, zmin=0, zmax=1, zsmooth="best",
                         colorscale=[[0, "#ffffff"], [1, "#75601c"]], showscale=False, hoverinfo="skip"))
fig.add_trace(go.Scatter(x=dot_year, y=dot_resid, mode="markers", showlegend=False,
    marker=dict(size=2.8, color=dot_dist, cmin=0, cmax=180, colorscale=DIST_COLORS, showscale=True, line=dict(width=0),
        colorbar=dict(thickness=44, thicknessmode="pixels", len=472, lenmode="pixels", xref="paper", yref="paper",
                      x=(1434 - 135) / 1240, xanchor="left", y=(1058 - 822) / 945, yanchor="bottom", xpad=0, ypad=0,
                      outlinewidth=2, outlinecolor="black", tickvals=CBAR_TICKS, ticks="outside", ticklen=12, tickprefix="\u00a0",
                      tickwidth=1.5, tickcolor="black", tickfont=dict(size=32.5, color="black", family=FONT)))))
fig.add_trace(go.Scatter(x=ZERO_YEARS, y=ZERO_RESID, mode="lines", showlegend=False,
                         line=dict(color="rgba(70,70,70,0.7)", width=1.5), hoverinfo="skip"))
fig.add_trace(go.Scatter(x=MEDIAN_YEAR, y=MEDIAN_RESID, mode="markers", showlegend=False,
                         marker=dict(size=9, color="#37d6ee", line=dict(width=0))))

fig.update_layout(
    width=1606, height=1161, autosize=False, paper_bgcolor="white", plot_bgcolor="white",
    margin=dict(l=135, r=231, t=113, b=103, pad=0), font=dict(family=FONT, size=32, color="black"),
    title=dict(text="Phase residuals (P Pn Pg Pb)", x=755 / 1606, xanchor="center", y=1 - 17 / 1161, yanchor="middle",
               font=dict(size=41.5, color="black", family=FONT)),
    annotations=[dict(text="Distance (degrees)", textangle=-90, xref="paper", yref="paper", x=(1585 - 135) / 1240, y=(1058 - 591) / 945,
                      xanchor="center", yanchor="middle", showarrow=False, font=dict(size=32.5, color="black", family=FONT))],
)
fig.update_xaxes(range=[1964, 2025], tickvals=X_TICKS, ticktext=X_LABELS, ticks="outside", ticklen=12, tickwidth=1.5, tickcolor="black",
                 showline=True, linewidth=2.5, linecolor="black", mirror="ticks", showgrid=False, zeroline=False, automargin=False,
                 ticklabelstandoff=-3, title=dict(text="Year", standoff=18, font=dict(size=34)), tickfont=dict(size=32.5))
fig.update_yaxes(range=[-10, 10], tickvals=Y_TICKS, ticks="outside", ticklen=12, tickwidth=1.5, tickcolor="black",
                 minor=dict(tickvals=list(range(-9, 10, 2)), ticks="outside", ticklen=6, tickwidth=1.5, tickcolor="black"),
                 showline=True, linewidth=2.5, linecolor="black", mirror="ticks", showgrid=False, zeroline=False, automargin=False,
                 ticklabelstandoff=3, title=dict(text="Residual and monthly median residual (seconds)", standoff=14, font=dict(size=33.4)), tickfont=dict(size=32.5))
fig.write_html("out.html", post_script="document.body.style.margin='0';", config=dict(displayModeBar=False))
